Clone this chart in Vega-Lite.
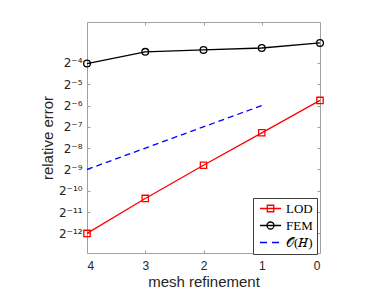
{
  "$schema": "https://vega.github.io/schema/vega-lite/v6.json",
  "width": 233,
  "height": 231,
  "autosize": {"type": "none"},
  "padding": {"left": 87, "top": 22, "right": 72, "bottom": 41},
  "background": "white",
  "config": {"view": {"stroke": null}, "font": "Liberation Sans"},
  "data": {
    "values": [
      {"method": "LOD", "refinement": 4, "error": 0.000244},
      {"method": "LOD", "refinement": 3, "error": 0.000761},
      {"method": "LOD", "refinement": 2, "error": 0.002244},
      {"method": "LOD", "refinement": 1, "error": 0.006434},
      {"method": "LOD", "refinement": 0, "error": 0.018453},
      {"method": "FEM", "refinement": 4, "error": 0.06121},
      {"method": "FEM", "refinement": 3, "error": 0.08962},
      {"method": "FEM", "refinement": 2, "error": 0.09539},
      {"method": "FEM", "refinement": 1, "error": 0.10153},
      {"method": "FEM", "refinement": 0, "error": 0.1199},
      {"method": "O(H)", "refinement": 4, "error": 0.001953125},
      {"method": "O(H)", "refinement": 1, "error": 0.015625}
    ]
  },
  "layer": [
    {
      "transform": [{"filter": "datum.method != 'O(H)'"}],
      "mark": {"type": "line", "strokeWidth": 1.3},
      "encoding": {
        "x": {
          "field": "refinement", "type": "quantitative",
          "scale": {"domain": [0, 4], "reverse": true, "nice": false, "zero": false},
          "axis": {
            "orient": "bottom", "values": [4, 3, 2, 1, 0], "format": "d",
            "title": "mesh refinement", "titleFontSize": 15, "titleFontWeight": "normal",
            "titleColor": "#262626", "titlePadding": 3,
            "labelFontSize": 12, "labelColor": "#262626", "labelPadding": 10,
            "tickSize": -3, "tickColor": "#a0a0a0", "domainColor": "#a0a0a0", "grid": false
          }
        },
        "y": {
          "field": "error", "type": "quantitative",
          "scale": {"type": "log", "base": 2, "domain": [0.000129, 0.2365], "nice": false},
          "axis": {
            "orient": "left",
            "values": [0.0625, 0.03125, 0.015625, 0.0078125, 0.00390625, 0.001953125, 0.0009765625, 0.00048828125, 0.000244140625],
            "labelExpr": "'2⁻' + ((-round(log(datum.value)/LN2)) >= 10 ? '¹' : '') + ['⁰','¹','²','³','⁴','⁵','⁶','⁷','⁸','⁹'][(-round(log(datum.value)/LN2)) % 10]",
            "title": "relative error", "titleFontSize": 15, "titleFontWeight": "normal",
            "titleColor": "#262626", "titlePadding": 3,
            "labelFont": "DejaVu Sans", "labelFontSize": 12, "labelColor": "#262626", "labelPadding": 8,
            "tickSize": -3, "tickColor": "#a0a0a0", "domainColor": "#a0a0a0", "grid": false
          }
        },
        "color": {
          "field": "method", "type": "nominal",
          "scale": {"domain": ["LOD", "FEM", "O(H)"], "range": ["#ff0000", "#000000", "#0000ff"]},
          "legend": {
            "orient": "none", "legendX": 166, "legendY": 176, "title": null,
            "labelExpr": "datum.label == 'O(H)' ? '𝒪(𝐻)' : datum.label",
            "labelFont": "Liberation Serif", "labelFontSize": 13, "labelColor": "#000000",
            "symbolSize": 100, "symbolStrokeWidth": 1.3, "symbolOffset": 7, "labelOffset": 9,
            "strokeColor": "#404040", "fillColor": "white", "padding": 4, "rowPadding": 3,
            "encode": {
              "symbols": {
                "update": {
                  "shape": {"signal": "datum.value === 'LOD' ? 'M-2.1,0H2.1M-0.65,-0.65H0.65V0.65H-0.65Z' : datum.value === 'FEM' ? 'M-2.1,0H2.1M0.7,0A0.7,0.7 0 1,1 -0.7,0A0.7,0.7 0 1,1 0.7,0' : 'M-2.1,0H-0.7M0.3,0H1.7'"},
                  "fill": {"value": "transparent"}
                }
              }
            }
          }
        }
      }
    },
    {
      "transform": [{"filter": "datum.method == 'O(H)'"}],
      "mark": {"type": "line", "strokeWidth": 1.3, "strokeDash": [6, 4]},
      "encoding": {
        "x": {"field": "refinement", "type": "quantitative", "axis": null},
        "y": {"field": "error", "type": "quantitative", "axis": null},
        "color": {"field": "method", "type": "nominal", "legend": null}
      }
    },
    {
      "transform": [{"filter": "datum.method == 'LOD'"}],
      "mark": {"type": "point", "shape": "square", "filled": false, "strokeWidth": 1.3, "opacity": 1, "size": 40},
      "encoding": {
        "x": {"field": "refinement", "type": "quantitative", "axis": null},
        "y": {"field": "error", "type": "quantitative", "axis": null},
        "color": {"field": "method", "type": "nominal", "legend": null}
      }
    },
    {
      "transform": [{"filter": "datum.method == 'FEM'"}],
      "mark": {"type": "point", "shape": "circle", "filled": false, "strokeWidth": 1.3, "opacity": 1, "size": 45},
      "encoding": {
        "x": {
          "field": "refinement", "type": "quantitative",
          "axis": {
            "orient": "top", "values": [4, 3, 2, 1, 0], "labels": false, "title": null,
            "tickSize": -3, "tickColor": "#a0a0a0", "domainColor": "#a0a0a0", "grid": false
          }
        },
        "y": {
          "field": "error", "type": "quantitative",
          "axis": {
            "orient": "right",
            "values": [0.0625, 0.03125, 0.015625, 0.0078125, 0.00390625, 0.001953125, 0.0009765625, 0.00048828125, 0.000244140625],
            "labels": false, "title": null,
            "tickSize": -3, "tickColor": "#a0a0a0", "domainColor": "#a0a0a0", "grid": false
          }
        },
        "color": {"field": "method", "type": "nominal", "legend": null}
      }
    }
  ],
  "resolve": {"axis": {"x": "independent", "y": "independent"}}
}
